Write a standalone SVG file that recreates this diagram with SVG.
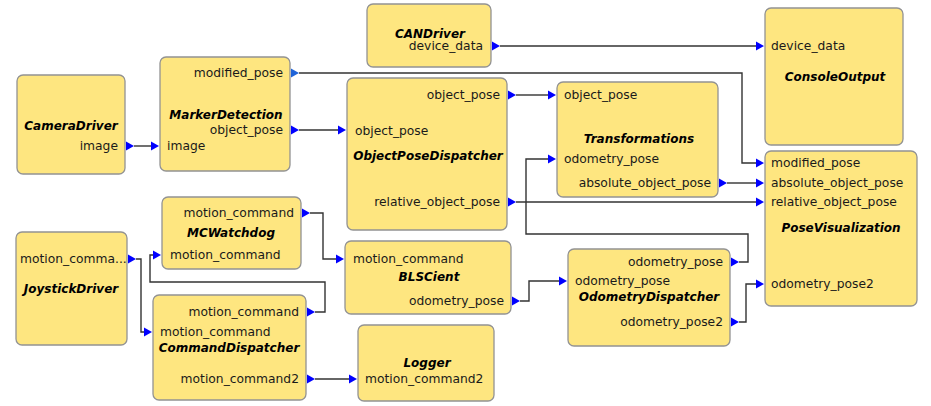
<svg xmlns="http://www.w3.org/2000/svg" width="931" height="406" viewBox="0 0 931 406">
<style>
.box{fill:#fee680;stroke:#939393;stroke-width:1.3}
text{font-family:"DejaVu Sans",sans-serif;font-size:12.3px;fill:#1a1a1a}
.t{font-size:12px;font-weight:bold;font-style:italic;text-anchor:middle;fill:#000}
.o{text-anchor:end}
.w{fill:none;stroke:#333;stroke-width:1.4}
.a{fill:#0000ff}
</style>
<g id="connectors">
<polyline class="w" points="134,146 151,146"/>
<polyline class="w" points="299,73 742,73 742,163 756,163"/>
<polyline class="w" points="299,130 338,130"/>
<polyline class="w" points="500,46 756,46"/>
<polyline class="w" points="516,95 548,95"/>
<polyline class="w" points="516,202 756,202"/>
<polyline class="w" points="727,183 756,183"/>
<polyline class="w" points="739,262 748,262 748,234 526,234 526,159 548,159"/>
<polyline class="w" points="739,322 746,322 746,284 756,284"/>
<polyline class="w" points="136,259 141,259 141,332 144,332"/>
<polyline class="w" points="315,312 325,312 325,282 150,282 150,255 153,255"/>
<polyline class="w" points="310,213 323,213 323,259 336,259"/>
<polyline class="w" points="520,301 529,301 529,281 559,281"/>
<polyline class="w" points="315,379 349,379"/>
</g>
<g id="CameraDriver">
<rect class="box" x="17" y="75" width="108" height="99" rx="6"/>
<text class="t" x="71" y="130">CameraDriver</text>
<text class="o" x="118" y="150">image</text>
<polygon class="a" points="126,141.5 134,146 126,150.5"/>
</g>
<g id="MarkerDetection">
<rect class="box" x="160" y="57" width="130" height="114" rx="6"/>
<text class="o" x="283" y="77">modified_pose</text>
<text class="t" x="226" y="119">MarkerDetection</text>
<text class="o" x="283" y="134">object_pose</text>
<text x="167" y="150">image</text>
<polygon fill="#1f63d8" points="291,68.5 299,73 291,77.5"/>
<polygon class="a" points="291,125.5 299,130 291,134.5"/>
<polygon class="a" points="151,141.5 159,146 151,150.5"/>
</g>
<g id="CANDriver">
<rect class="box" x="367" y="4" width="124" height="63" rx="6"/>
<text class="t" x="430" y="38">CANDriver</text>
<text class="o" x="483" y="50">device_data</text>
<polygon class="a" points="492,41.5 500,46 492,50.5"/>
</g>
<g id="ObjectPoseDispatcher">
<rect class="box" x="347" y="78" width="160" height="152" rx="6"/>
<text class="o" x="500" y="99">object_pose</text>
<text x="355" y="135">object_pose</text>
<text class="t" x="428" y="160">ObjectPoseDispatcher</text>
<text class="o" x="500" y="206">relative_object_pose</text>
<polygon class="a" points="508,90.5 516,95 508,99.5"/>
<polygon class="a" points="338,125.5 346,130 338,134.5"/>
<polygon class="a" points="508,197.5 516,202 508,206.5"/>
</g>
<g id="Transformations">
<rect class="box" x="557" y="82" width="161" height="115" rx="6"/>
<text x="564" y="99">object_pose</text>
<text class="t" x="639" y="143">Transformations</text>
<text x="564" y="163">odometry_pose</text>
<text class="o" x="711" y="187">absolute_object_pose</text>
<polygon class="a" points="548,90.5 556,95 548,99.5"/>
<polygon class="a" points="548,154.5 556,159 548,163.5"/>
<polygon class="a" points="719,178.5 727,183 719,187.5"/>
</g>
<g id="ConsoleOutput">
<rect class="box" x="765" y="8" width="138" height="137" rx="6"/>
<text x="771" y="50">device_data</text>
<text class="t" x="835" y="81">ConsoleOutput</text>
<polygon class="a" points="756,41.5 764,46 756,50.5"/>
</g>
<g id="PoseVisualization">
<rect class="box" x="765" y="151" width="152" height="155" rx="6"/>
<text x="771" y="167">modified_pose</text>
<text x="771" y="187">absolute_object_pose</text>
<text x="771" y="206">relative_object_pose</text>
<text class="t" x="841" y="232">PoseVisualization</text>
<text x="771" y="288">odometry_pose2</text>
<polygon class="a" points="756,158.5 764,163 756,167.5"/>
<polygon class="a" points="756,178.5 764,183 756,187.5"/>
<polygon class="a" points="756,197.5 764,202 756,206.5"/>
<polygon class="a" points="756,279.5 764,284 756,288.5"/>
</g>
<g id="JoystickDriver">
<rect class="box" x="16" y="232" width="111" height="113" rx="6"/>
<text x="20" y="263">motion_comma...</text>
<text class="t" x="71" y="293">JoystickDriver</text>
<polygon class="a" points="128,254.5 136,259 128,263.5"/>
</g>
<g id="MCWatchdog">
<rect class="box" x="162" y="197" width="139" height="72" rx="6"/>
<text class="o" x="294" y="217">motion_command</text>
<text class="t" x="231" y="237">MCWatchdog</text>
<text x="170" y="259">motion_command</text>
<polygon class="a" points="302,208.5 310,213 302,217.5"/>
<polygon class="a" points="153,250.5 161,255 153,259.5"/>
</g>
<g id="CommandDispatcher">
<rect class="box" x="153" y="295" width="153" height="105" rx="6"/>
<text class="o" x="299" y="316">motion_command</text>
<text x="160" y="336">motion_command</text>
<text class="t" x="229" y="352">CommandDispatcher</text>
<text class="o" x="299" y="383">motion_command2</text>
<polygon class="a" points="307,307.5 315,312 307,316.5"/>
<polygon class="a" points="144,327.5 152,332 144,336.5"/>
<polygon class="a" points="307,374.5 315,379 307,383.5"/>
</g>
<g id="BLSCient">
<rect class="box" x="345" y="241" width="166" height="73" rx="6"/>
<text x="353" y="263">motion_command</text>
<text class="t" x="429" y="281">BLSCient</text>
<text class="o" x="504" y="305">odometry_pose</text>
<polygon class="a" points="336,254.5 344,259 336,263.5"/>
<polygon class="a" points="512,296.5 520,301 512,305.5"/>
</g>
<g id="Logger">
<rect class="box" x="358" y="325" width="136" height="76" rx="6"/>
<text class="t" x="427" y="367">Logger</text>
<text x="365" y="383">motion_command2</text>
<polygon class="a" points="349,374.5 357,379 349,383.5"/>
</g>
<g id="OdometryDispatcher">
<rect class="box" x="568" y="249" width="162" height="97" rx="6"/>
<text class="o" x="723" y="266">odometry_pose</text>
<text x="575" y="285">odometry_pose</text>
<text class="t" x="649" y="301">OdometryDispatcher</text>
<text class="o" x="723" y="326">odometry_pose2</text>
<polygon class="a" points="731,257.5 739,262 731,266.5"/>
<polygon class="a" points="559,276.5 567,281 559,285.5"/>
<polygon class="a" points="731,317.5 739,322 731,326.5"/>
</g>
</svg>
